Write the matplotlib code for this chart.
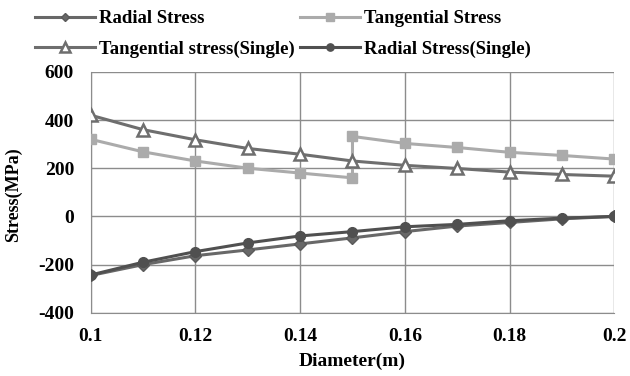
import matplotlib
matplotlib.use("Agg")
import matplotlib.pyplot as plt

diam = [0.10, 0.11, 0.12, 0.13, 0.14, 0.15, 0.16, 0.17, 0.18, 0.19, 0.20]
radial = [-245, -200, -163, -139, -114, -89, -63, -40, -25, -10, 0]
tang_x1 = [0.10, 0.11, 0.12, 0.13, 0.14, 0.15]
tang_y1 = [320, 268, 230, 200, 180, 160]
tang_x2 = [0.15, 0.16, 0.17, 0.18, 0.19, 0.20]
tang_y2 = [332, 303, 286, 266, 253, 238]
tang_single = [420, 360, 318, 282, 258, 230, 212, 199, 184, 174, 167]
radial_single = [-243, -190, -146, -110, -81, -63, -43, -33, -18, -7, 0]

plt.rcParams['font.family'] = ['Liberation Serif', 'DejaVu Serif']
plt.rcParams['font.weight'] = 'bold'
plt.rcParams['axes.unicode_minus'] = False

fig = plt.figure(figsize=(6.3, 3.76), dpi=100)
ax = fig.add_axes([0.144, 0.168, 0.831, 0.641])

tang_x = tang_x1 + tang_x2
tang_y = tang_y1 + tang_y2

l1, = ax.plot(diam, radial, color='#686868', lw=2.2, marker='D', ms=6,
              mfc='#686868', mec='#5a5a5a', zorder=3, label='Radial Stress')
l2, = ax.plot(tang_x, tang_y, color='#ababab', lw=2.2, marker='s', ms=7,
              mfc='#ababab', mec='#ababab', zorder=3, label='Tangential Stress')
l3, = ax.plot(diam, tang_single, color='#6e6e6e', lw=2.2, marker='^', ms=9,
              mfc='white', mec='#6e6e6e', mew=1.8, zorder=4,
              label='Tangential stress(Single)')
l4, = ax.plot(diam, radial_single, color='#505050', lw=2.2, marker='o', ms=7,
              mfc='#505050', mec='#505050', zorder=4, label='Radial Stress(Single)')

ax.set_xlim(0.1, 0.2)
ax.set_ylim(-400, 600)
ax.set_xticks([0.1, 0.12, 0.14, 0.16, 0.18, 0.2])
ax.set_xticklabels(['0.1', '0.12', '0.14', '0.16', '0.18', '0.2'])
ax.set_yticks([-400, -200, 0, 200, 400, 600])
ax.grid(True, color='#8c8c8c', lw=1.0)
ax.set_axisbelow(True)
for s in ax.spines.values():
    s.set_visible(False)
ax.spines['left'].set_visible(True)
ax.spines['left'].set_color('#8c8c8c')
ax.spines['bottom'].set_visible(True)
ax.spines['bottom'].set_color('#8c8c8c')
ax.tick_params(axis='x', length=0, labelsize=14, pad=11)
ax.tick_params(axis='y', length=0, labelsize=14, pad=12)
for lab in ax.get_xticklabels() + ax.get_yticklabels():
    lab.set_fontweight('bold')
ax.set_xlabel('Diameter(m)', fontsize=14, fontweight='bold')
ax.set_ylabel('Stress(MPa)', fontsize=13, fontweight='bold')
ax.xaxis.set_label_coords(0.499, -0.165)
ax.yaxis.set_label_coords(-0.132, 0.49)

common = dict(loc='upper left', frameon=False,
              prop={'size': 13.5, 'weight': 'bold'},
              handlelength=3.2, handletextpad=0.2, labelspacing=0.72,
              markerscale=0.75, borderaxespad=0, borderpad=0)
legA = fig.legend(handles=[l1, l3], bbox_to_anchor=(35/630, 1 - 10/376), **common)
legB = fig.legend(handles=[l2, l4], bbox_to_anchor=(300/630, 1 - 10/376), **common)

fig.savefig('out.png', dpi=100)
